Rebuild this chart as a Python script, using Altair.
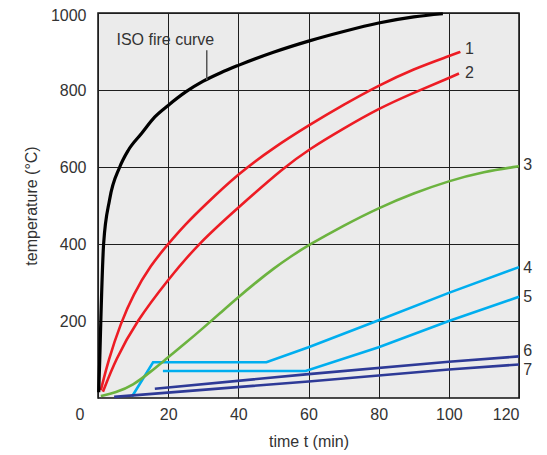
import altair as alt
import pandas as pd

# ---- data ----
iso_t = [0.2, 0.5, 0.8, 1.6, 3.3, 6.2, 8.6, 12.4, 16.2, 20, 25, 30, 35, 40, 50, 60, 70, 80, 90, 98.3]
iso_T = [15, 100, 200, 400, 515, 600, 643, 687, 730, 760, 795, 823, 845, 864, 898, 927, 952, 974, 990, 998]

c1_t = [0.8, 3, 6.5, 10, 15, 20, 25, 30, 40, 50, 60, 70, 80, 90, 100, 103.3]
c1_T = [20, 100, 195, 268, 345, 400, 452, 497, 583, 650, 708, 762, 812, 855, 888, 899]

c2_t = [1.4, 5, 11, 20, 28.5, 40, 53.2, 60, 70, 80, 90, 100, 102.9]
c2_T = [16, 100, 200, 308, 400, 495, 600, 645, 700, 752, 793, 831, 843]

c3_t = [0.8, 5, 10, 15, 20, 25, 30, 35, 40, 45, 50, 55, 60, 70, 80, 90, 100, 110, 120]
c3_T = [5, 14, 33, 68, 106, 143, 182, 222, 262, 300, 336, 368, 397, 448, 494, 532, 564, 588, 602]

c4_t = [9.7, 15.7, 48, 60, 80, 100, 120]
c4_T = [4, 93, 93, 132, 202, 273, 340]

c5_t = [18.5, 59.2, 80, 100, 120]
c5_T = [70, 70, 132, 200, 263]

c6_t = [16.2, 60, 100, 120]
c6_T = [24, 62, 94, 108]

c7_t = [4.6, 60, 100, 120]
c7_T = [3, 43, 74, 87]

series_names = ["ISO", "1", "2", "3", "4", "5", "6", "7"]
series_colors = ["#000000", "#ed1c24", "#ed1c24", "#6cb33f", "#00aeef", "#00aeef", "#2e3a97", "#2e3a97"]

lab_names = ["1", "2", "3", "4", "5", "6", "7"]
lab_t = [104.6, 104.6, 121.2, 121.2, 121.2, 121.2, 121.2]
lab_T = [907, 843, 604, 337, 263, 121, 72]

iso_label = "ISO fire curve"
iso_label_t = [19.2]
iso_label_T = [929]
leader_t = [31.0]
leader_T1 = [903]
leader_T2 = [826]

x_ticks = [0, 20, 40, 60, 80, 100, 120]
y_ticks = [200, 400, 600, 800, 1000]

# ---- build tables ----
def make(name, ts, Ts):
    return pd.DataFrame({"s": name, "t": ts, "T": Ts, "o": list(range(len(ts)))})

curves = pd.concat([make("1", c1_t, c1_T), make("2", c2_t, c2_T), make("3", c3_t, c3_T)])
iso = make("ISO", iso_t, iso_T)
straight = pd.concat([make("4", c4_t, c4_T), make("5", c5_t, c5_T),
                      make("6", c6_t, c6_T), make("7", c7_t, c7_T)])
labels = pd.DataFrame({"s": lab_names, "t": lab_t, "T": lab_T})
isolab = pd.DataFrame({"txt": [iso_label], "t": iso_label_t, "T": iso_label_T})
leader = pd.DataFrame({"t": leader_t, "T": leader_T1, "T2": leader_T2})

FONT = "Liberation Sans"
TXT = "#333333"

xenc = alt.X("t:Q", scale=alt.Scale(domain=[0, 120], nice=False, zero=False),
             axis=alt.Axis(values=x_ticks, title="time t (min)", grid=True, format="d",
                           labelOffset={"condition": {"test": "datum.value === 0", "value": -23}, "value": 0},
                           labelPadding=8, titlePadding=11))
yenc = alt.Y("T:Q", scale=alt.Scale(domain=[0, 1000], nice=False),
             axis=alt.Axis(values=y_ticks, title="temperature (°C)", grid=True, format="d",
                           labelOffset={"condition": {"test": "datum.value === 1000", "value": 2}, "value": 0},
                           labelPadding=12, titlePadding=11))
color = alt.Color("s:N", scale=alt.Scale(domain=series_names, range=series_colors), legend=None)

base_iso = alt.Chart(iso).mark_line(strokeWidth=3.2, interpolate="monotone").encode(
    x=xenc, y=yenc, color=color, order="o:Q")
base_curves = alt.Chart(curves).mark_line(strokeWidth=2.6, interpolate="basis").encode(
    x="t:Q", y="T:Q", color=color, detail="s:N", order="o:Q")
base_straight = alt.Chart(straight).mark_line(strokeWidth=2.6, interpolate="linear").encode(
    x="t:Q", y="T:Q", color=color, detail="s:N", order="o:Q")
lab_layer = alt.Chart(labels).mark_text(align="left", baseline="middle", font=FONT,
                                        fontSize=16, color=TXT).encode(
    x="t:Q", y="T:Q", text="s:N")
iso_text = alt.Chart(isolab).mark_text(align="center", baseline="middle", font=FONT,
                                       fontSize=16, color=TXT).encode(
    x="t:Q", y="T:Q", text="txt:N")
leader_rule = alt.Chart(leader).mark_rule(color="#555555", strokeWidth=1.5).encode(
    x="t:Q", y="T:Q", y2="T2:Q")

chart = alt.layer(base_straight, base_curves, base_iso, leader_rule, iso_text, lab_layer).properties(
    width=421, height=385, autosize="none",
    padding={"left": 90, "top": 5, "right": 20, "bottom": 52},
).configure_view(
    fill="#ebebeb", stroke="#111111", strokeWidth=1.5
).configure_axis(
    domain=False, ticks=False, labelFont=FONT, titleFont=FONT,
    labelFontSize=16, titleFontSize=16, titleFontWeight="normal",
    labelColor=TXT, titleColor=TXT, gridColor="#1e1e1e", gridWidth=1, gridOpacity=1
)

chart.save("out.html", embed_options={"renderer": "svg", "actions": False})
